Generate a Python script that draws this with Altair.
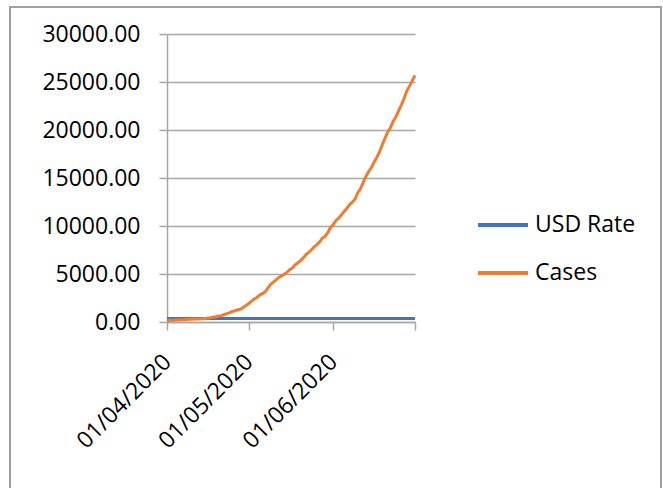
import altair as alt
import pandas as pd

# ---- data ----
start_date = "2020-04-01"
end_date = "2020-07-01"

cases = [139, 174, 184, 210, 214, 232, 238, 254, 276, 288, 305, 318, 323, 343, 373,
         407, 442, 493, 542, 627, 665, 782, 873, 981, 1095, 1182, 1273, 1337, 1532,
         1728, 1932,
         2170, 2388, 2558, 2802, 2950, 3145, 3526, 3912, 4151, 4399, 4641, 4787, 4971,
         5162, 5450, 5621, 5959, 6175, 6401, 6677, 7016, 7261, 7526, 7839, 8068, 8344,
         8733, 8915, 9302, 9855, 10162,
         10578, 10819, 11166, 11516, 11844, 12233, 12486, 12801, 13464, 13873, 14554,
         15181, 15682, 16085, 16658, 17148, 17735, 18480, 19147, 19808, 20244, 20919,
         21371, 22020, 22614, 23298, 24077, 24567, 25133, 25694]

usd_rate = [361, 361, 361, 361, 361, 361, 361, 361, 361, 361, 361, 361, 361, 361, 361,
            361, 361, 361, 361, 361, 361, 361, 361, 361, 361, 361, 361, 361, 361, 361,
            361, 361, 361, 361, 361, 361, 361, 361, 361, 361, 361, 361, 361, 361, 361,
            361, 361, 361, 361, 361, 361, 361, 361, 361, 361, 361, 361, 361, 361, 361,
            361, 361, 361, 361, 361, 361, 361, 361, 361, 361, 361, 361, 361, 361, 361,
            361, 361, 361, 361, 361, 361, 361, 361, 361, 361, 361, 361, 361, 361, 361,
            361, 361]

series_names = ["USD Rate", "Cases"]
series_colors = ["#4472C4", "#ED7D31"]
y_ticks = [0, 5000, 10000, 15000, 20000, 25000, 30000]

dates = pd.date_range(start_date, end_date, freq="D")
df = pd.concat([
    pd.DataFrame({"date": dates, "series": series_names[0], "value": usd_rate}),
    pd.DataFrame({"date": dates, "series": series_names[1], "value": cases}),
], ignore_index=True)

FONT = "Open Sans"
GRAY = "#a6a6a6"

tick_values = [
    alt.DateTime(year=2020, month=4, date=1),
    alt.DateTime(year=2020, month=5, date=1),
    alt.DateTime(year=2020, month=6, date=1),
    alt.DateTime(year=2020, month=7, date=1),
]

lines = alt.Chart(df).mark_line(strokeWidth=3).encode(
    x=alt.X(
        "date:T",
        title=None,
        scale=alt.Scale(domain=[alt.DateTime(year=2020, month=4, date=1),
                                alt.DateTime(year=2020, month=7, date=1)]),
        axis=alt.Axis(
            values=tick_values,
            labelExpr="month(datum.value) == 6 ? '' : timeFormat(datum.value, '%d/%m/%Y')",
            labelAngle=-45,
            labelAlign="right",
            labelBaseline="middle",
            labelPadding=28,
            labelFont=FONT,
            labelFontSize=23,
            labelColor="#000000",
            grid=False,
            domainColor=GRAY,
            domainWidth=1.5,
            tickColor=GRAY,
            tickWidth=1.5,
            tickSize=8,
            labelOverlap=False,
        ),
    ),
    y=alt.Y(
        "value:Q",
        title=None,
        scale=alt.Scale(domain=[0, 30000], nice=False),
        axis=alt.Axis(
            values=y_ticks,
            format=".2f",
            labelFont=FONT,
            labelFontSize=23,
            labelColor="#000000",
            labelPadding=19,
            grid=True,
            gridColor=GRAY,
            gridWidth=1.5,
            domainColor=GRAY,
            domainWidth=1.5,
            tickColor=GRAY,
            tickWidth=1.5,
            tickSize=8,
        ),
    ),
    color=alt.Color(
        "series:N",
        scale=alt.Scale(domain=series_names, range=series_colors),
        legend=alt.Legend(
            title=None,
            orient="none",
            legendX=309,
            legendY=164,
            symbolType="stroke",
            symbolStrokeWidth=4,
            symbolSize=2500,
            labelFont=FONT,
            labelFontSize=23,
            labelColor="#000000",
            labelOffset=5,
            rowPadding=9,
            padding=0,
        ),
    ),
    order=alt.Order("date:T"),
)

border = alt.Chart(pd.DataFrame({"k": [0]})).mark_rect(
    fill=None, stroke="#a0a0a0", strokeWidth=2
).encode(
    x=alt.value(-157), x2=alt.value(494), y=alt.value(-27), y2=alt.value(480)
)

chart = alt.layer(border, lines).properties(
    width=248,
    height=288,
    autosize=alt.AutoSizeParams(type="none"),
    padding={"left": 167, "top": 34, "right": 248, "bottom": 166},
    background="#ffffff",
).configure_view(stroke=None)

chart.save("out.html", embed_options={"renderer": "svg", "actions": False})
